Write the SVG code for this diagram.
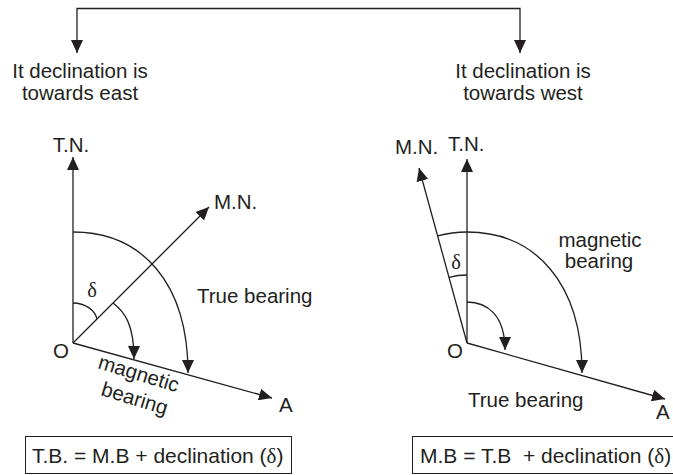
<svg xmlns="http://www.w3.org/2000/svg" width="673" height="475" viewBox="0 0 673 475">
<style>
  text { font-family: "Liberation Sans", Arial, sans-serif; font-size: 20.5px; fill: #231f20; }
  .d { font-family: "Liberation Serif", "Times New Roman", serif; }
  .ln { fill: none; stroke: #231f20; stroke-width: 1.3; }
  .bx { fill: #fff; stroke: #231f20; stroke-width: 1; }
  .arr { marker-end: url(#ah); }
</style>
<defs>
  <marker id="ah" viewBox="0 0 13 12" refX="13" refY="6" markerWidth="13" markerHeight="12" markerUnits="userSpaceOnUse" orient="auto-start-reverse">
    <path d="M0,0 L13,6 L0,12 z" fill="#231f20"/>
  </marker>
</defs>
<rect width="673" height="475" fill="#fff"/>

<g id="connectors">
  <path class="ln" d="M77,53 L77,8.5 L520,8.5 L520,53" marker-start="url(#ah)" marker-end="url(#ah)"/>
</g>

<g id="header-east">
  <text x="80" y="78" text-anchor="middle">It declination is</text>
  <text x="80" y="100" text-anchor="middle">towards east</text>
</g>
<g id="header-west">
  <text x="523" y="78" text-anchor="middle">It declination is</text>
  <text x="523" y="100" text-anchor="middle">towards west</text>
</g>

<g id="diagram-east">
  <path class="ln arr" d="M73,343 L73,157"/>
  <path class="ln arr" d="M73,343 L209,207"/>
  <path class="ln arr" d="M73,343 L272,398"/>
  <path class="ln arr" d="M73,232 C142,232 188,283 188,373"/>
  <path class="ln arr" d="M113,303 C125,312 134,325 134,359"/>
  <path class="ln" d="M73,303 C85,303 95,310 97,319"/>
  <text x="71" y="152" text-anchor="middle">T.N.</text>
  <text x="214" y="209">M.N.</text>
  <text x="197" y="303">True bearing</text>
  <text x="53" y="358">O</text>
  <text x="279" y="412">A</text>
  <text class="d" x="92" y="297" text-anchor="middle">δ</text>
  <text x="97" y="368" transform="rotate(17 97 368)">magnetic</text>
  <text x="100" y="395" transform="rotate(17 100 395)">bearing</text>
</g>

<g id="diagram-west">
  <path class="ln arr" d="M467,343 L467,159"/>
  <path class="ln arr" d="M467,343 L419,168"/>
  <path class="ln arr" d="M467,343 L665,399"/>
  <path class="ln arr" d="M437.7,235.9 A111,111 0 0 1 467,232 C535,232 582,283 582,373"/>
  <path class="ln arr" d="M467,302 C487,302 505,315 505,350"/>
  <path class="ln" d="M449,277.4 A68,68 0 0 1 467,275"/>
  <text x="395" y="154">M.N.</text>
  <text x="448" y="151">T.N.</text>
  <text x="600" y="247" text-anchor="middle">magnetic</text>
  <text x="599" y="268" text-anchor="middle">bearing</text>
  <text x="447" y="358">O</text>
  <text x="656" y="419">A</text>
  <text x="468" y="407">True bearing</text>
  <text class="d" x="456" y="269" text-anchor="middle">δ</text>
</g>

<g id="formula-east">
  <rect class="bx" x="25.5" y="436.5" width="266" height="37"/>
  <text x="32" y="463" style="font-size:21px">T.B. = M.B + declination (<tspan class="d">δ</tspan>)</text>
</g>
<g id="formula-west">
  <rect class="bx" x="412.5" y="436.5" width="280" height="37"/>
  <text x="420" y="463" style="font-size:21px" xml:space="preserve">M.B = T.B  + declination (<tspan class="d">δ</tspan>)</text>
</g>
</svg>
